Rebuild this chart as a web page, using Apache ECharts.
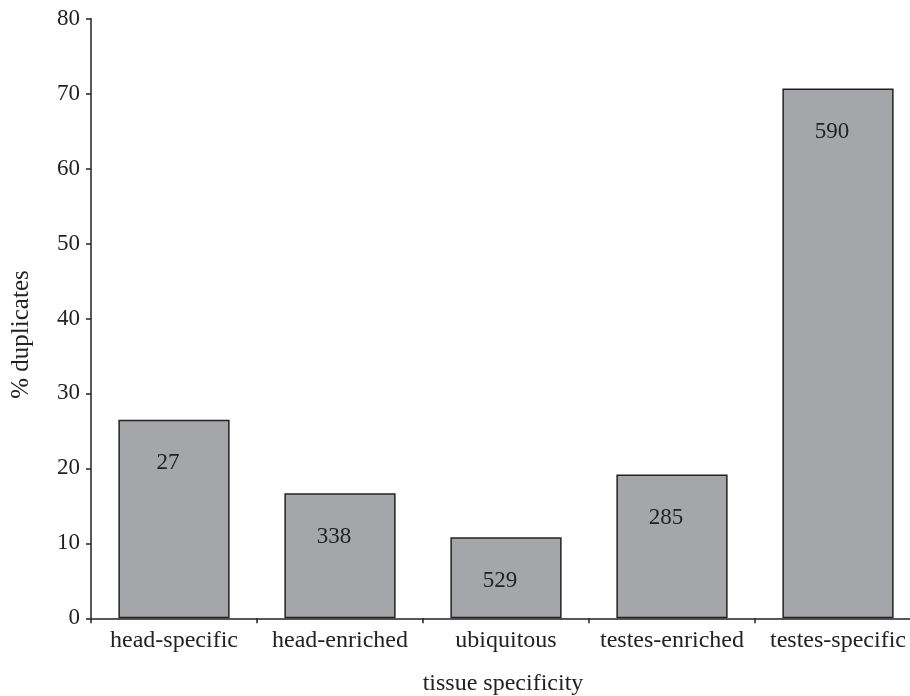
<!DOCTYPE html>
<html><head><meta charset="utf-8">
<script src="https://cdn.jsdelivr.net/npm/echarts@6/dist/echarts.min.js"></script>
<style>html,body{margin:0;padding:0;background:#fff}#c{width:910px;height:696px}</style>
</head><body><div id="c"></div>
<script>
var categories = ['head-specific','head-enriched','ubiquitous','testes-enriched','testes-specific'];
var percentDuplicates = [26.5, 16.7, 10.8, 19.2, 70.7];
var geneCounts = [27, 338, 529, 285, 590];
var yTicks = {min: 0, max: 80, interval: 10};

var chart = echarts.init(document.getElementById('c'));
var F = '"Liberation Serif","DejaVu Serif",serif';
chart.setOption({
  animation: false,
  backgroundColor: '#fff',
  grid: {left: 91, top: 18.7, bottom: 77.7, right: -11, outerBoundsMode: 'none', containLabel: false},
  xAxis: {
    type: 'category', data: categories,
    name: 'tissue specificity', nameLocation: 'middle', nameGap: 53,
    nameTextStyle: {fontFamily: F, fontSize: 24, color: '#222', padding: [0, 6, 0, 0]},
    axisLine: {lineStyle: {color: '#222', width: 1.5}},
    axisTick: {show: true, length: 5, lineStyle: {color: '#222', width: 1.5}},
    axisLabel: {fontFamily: F, fontSize: 24, color: '#222', margin: 10, interval: 0, hideOverlap: false}
  },
  yAxis: {
    type: 'value', min: yTicks.min, max: yTicks.max, interval: yTicks.interval,
    name: '% duplicates', nameLocation: 'middle', nameGap: 57, nameRotate: 90,
    nameTextStyle: {fontFamily: F, fontSize: 25, color: '#222', padding: [0, 32, 0, 0]},
    axisLine: {show: true, lineStyle: {color: '#222', width: 1.5}},
    axisTick: {show: true, length: 5, lineStyle: {color: '#222', width: 1.5}},
    axisLabel: {fontFamily: F, fontSize: 23, color: '#222', margin: 11},
    splitLine: {show: false}
  },
  series: [{
    type: 'bar',
    data: percentDuplicates,
    barCategoryGap: '33%',
    itemStyle: {color: '#a5a6aa', borderColor: '#222', borderWidth: 1.5},
    label: {
      show: true, position: 'insideTop', distance: 5, offset: [-6, 27],
      fontFamily: F, fontSize: 23, color: '#222',
      formatter: function(p){ return geneCounts[p.dataIndex]; }
    }
  }]
});
</script></body></html>
